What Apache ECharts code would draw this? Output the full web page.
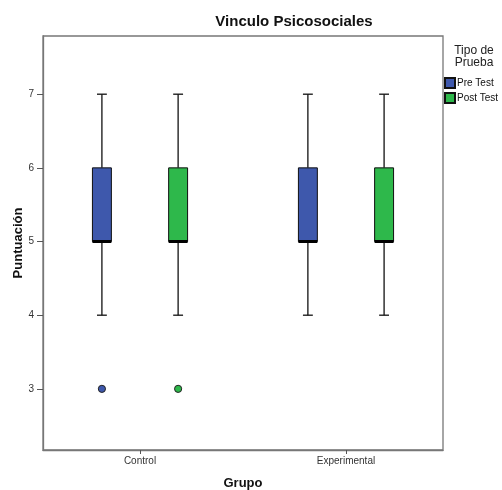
<!DOCTYPE html>
<html>
<head>
<meta charset="utf-8">
<script src="https://cdn.jsdelivr.net/npm/echarts@6/dist/echarts.min.js"></script>
<style>
  html, body { margin: 0; padding: 0; background: #fff; }
  #chart { width: 502px; height: 490px; }
</style>
</head>
<body>
<div id="chart"></div>
<script>
// boxplot data, one row per group: [min, q1, median, q3, max]
const groups = ['Control', 'Experimental'];
const preTest = [[4, 5, 5, 6, 7], [4, 5, 5, 6, 7]];
const postTest = [[4, 5, 5, 6, 7], [4, 5, 5, 6, 7]];
// outliers: [group index, value]
const preOutliers = [[0, 3]];
const postOutliers = [[0, 3]];
const yTicks = [3, 4, 5, 6, 7];

const colors = { pre: '#3E58AC', post: '#2EB84B' };
const fontFamily = '"Liberation Sans", Arial, sans-serif';

// offsets in x data units (one unit = distance between groups)
const seriesOffset = 0.185;
const boxHalf = 0.046;
const capHalf = 0.024;

function boxRenderer(offset) {
    return function (params, api) {
        const g = api.value(0);
        const x = g + offset;
        const pMin = api.coord([x, api.value(1)]);
        const pQ1 = api.coord([x, api.value(2)]);
        const pMed = api.coord([x, api.value(3)]);
        const pQ3 = api.coord([x, api.value(4)]);
        const pMax = api.coord([x, api.value(5)]);
        const left = api.coord([x - boxHalf, 0])[0];
        const right = api.coord([x + boxHalf, 0])[0];
        const capL = api.coord([x - capHalf, 0])[0];
        const capR = api.coord([x + capHalf, 0])[0];
        const line = { stroke: '#111', lineWidth: 1.3 };
        return {
            type: 'group',
            children: [
                { type: 'line', shape: { x1: pMax[0], y1: pMax[1], x2: pMax[0], y2: pQ3[1] }, style: line },
                { type: 'line', shape: { x1: pMin[0], y1: pQ1[1], x2: pMin[0], y2: pMin[1] }, style: line },
                { type: 'line', shape: { x1: capL, y1: pMax[1], x2: capR, y2: pMax[1] }, style: line },
                { type: 'line', shape: { x1: capL, y1: pMin[1], x2: capR, y2: pMin[1] }, style: line },
                {
                    type: 'rect',
                    shape: { x: left, y: pQ3[1], width: right - left, height: pQ1[1] - pQ3[1] },
                    style: { fill: api.visual('color'), stroke: '#111', lineWidth: 1 }
                },
                { type: 'line', shape: { x1: left, y1: pMed[1], x2: right, y2: pMed[1] }, style: { stroke: '#000', lineWidth: 3 } }
            ]
        };
    };
}

function outlierRenderer(offset) {
    return function (params, api) {
        const p = api.coord([api.value(0) + offset, api.value(1)]);
        return {
            type: 'circle',
            shape: { cx: p[0], cy: p[1], r: 3.6 },
            style: { fill: api.visual('color'), stroke: '#222', lineWidth: 1 }
        };
    };
}

const chart = echarts.init(document.getElementById('chart'));

chart.setOption({
    animation: false,
    title: [
        {
            text: 'Vinculo Psicosociales',
            left: 289,
            top: 9,
            textAlign: 'center',
            textStyle: { fontFamily, fontSize: 15, fontWeight: 'bold', color: '#111' }
        },
        {
            text: 'Tipo de\nPrueba',
            left: 469,
            top: 40,
            textAlign: 'center',
            textStyle: { fontFamily, fontSize: 12, fontWeight: 'normal', color: '#222', lineHeight: 12, align: 'center' }
        }
    ],
    legend: {
        orient: 'vertical',
        left: 444,
        top: 77,
        itemWidth: 10,
        itemHeight: 10,
        itemGap: 3,
        icon: 'rect',
        padding: 0,
        textStyle: { fontFamily, fontSize: 10, color: '#111', padding: [0, 0, 0, -3] },
        data: ['Pre Test', 'Post Test']
    },
    grid: {
        left: 43,
        right: 59,
        top: 36,
        bottom: 40,
        outerBoundsMode: 'none',
        containLabel: false,
        show: true,
        borderColor: '#777',
        borderWidth: 1.3
    },
    xAxis: {
        type: 'value',
        min: -0.471,
        max: 1.471,
        name: 'Grupo',
        nameLocation: 'middle',
        nameGap: 27,
        nameTextStyle: { fontFamily, fontSize: 13, fontWeight: 'bold', color: '#111' },
        splitLine: { show: false },
        axisLine: { show: true, onZero: false, lineStyle: { color: '#777', width: 1.3 } },
        axisTick: { show: true, length: 4, lineStyle: { color: '#555' }, customValues: [0, 1] },
        axisLabel: {
            fontFamily, fontSize: 10, color: '#333', margin: 6,
            customValues: [0, 1],
            formatter: v => groups[Math.round(v)] || ''
        }
    },
    yAxis: {
        type: 'value',
        min: 2.17,
        max: 7.79,
        name: 'Puntuación',
        nameLocation: 'middle',
        nameGap: 18,
        nameMoveOverlap: false,
        nameTextStyle: { fontFamily, fontSize: 13, fontWeight: 'bold', color: '#111' },
        splitLine: { show: false },
        axisLine: { show: true, onZero: false, lineStyle: { color: '#777', width: 1.3 } },
        axisTick: { show: true, length: 6, lineStyle: { color: '#555' }, customValues: yTicks },
        axisLabel: { fontFamily, fontSize: 10, color: '#333', margin: 9, customValues: yTicks }
    },
    series: [
        {
            name: 'Pre Test',
            type: 'custom',
            itemStyle: { color: colors.pre, borderColor: '#111', borderWidth: 1 },
            encode: { x: 0, y: [1, 2, 3, 4, 5] },
            renderItem: boxRenderer(-seriesOffset),
            data: preTest.map((r, i) => [i].concat(r))
        },
        {
            name: 'Post Test',
            type: 'custom',
            itemStyle: { color: colors.post, borderColor: '#111', borderWidth: 1 },
            encode: { x: 0, y: [1, 2, 3, 4, 5] },
            renderItem: boxRenderer(seriesOffset),
            data: postTest.map((r, i) => [i].concat(r))
        },
        {
            name: 'Pre Test',
            type: 'custom',
            itemStyle: { color: colors.pre },
            encode: { x: 0, y: 1 },
            renderItem: outlierRenderer(-seriesOffset),
            data: preOutliers
        },
        {
            name: 'Post Test',
            type: 'custom',
            itemStyle: { color: colors.post },
            encode: { x: 0, y: 1 },
            renderItem: outlierRenderer(seriesOffset),
            data: postOutliers
        }
    ]
});
</script>
</body>
</html>
